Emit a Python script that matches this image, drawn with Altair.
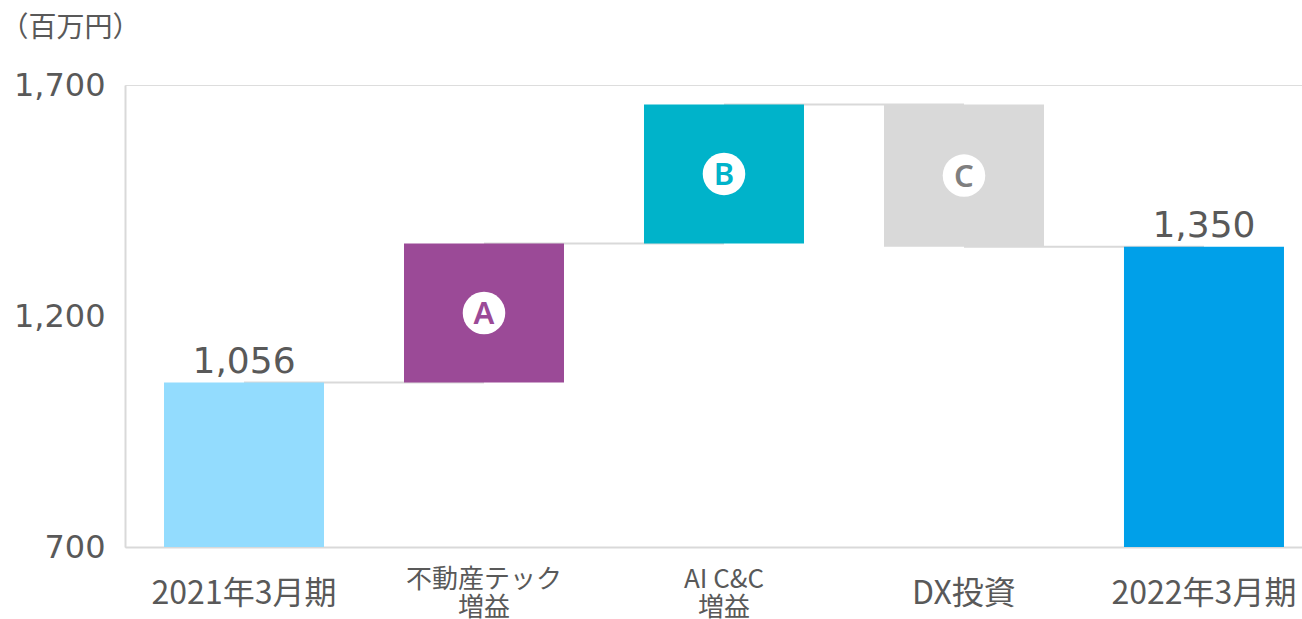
import altair as alt
import pandas as pd

categories = ["2021年3月期", "不動産テック|増益", "AI C&C|増益", "DX投資", "2022年3月期"]
starts = [700, 1056, 1357, 1658, 700]
ends = [1056, 1357, 1658, 1350, 1350]
colors = ["#93DCFE", "#9B4A97", "#00B3CA", "#D9D9D9", "#00A0E9"]
letters = ["", "A", "B", "C", ""]
letter_colors = ["", "#9B4A97", "#00B3CA", "#7F7F7F", ""]
total_labels = ["1,056", "", "", "", "1,350"]
connector_levels = [1056, 1357, 1658, 1350]

df = pd.DataFrame({
    "cat": categories,
    "start": starts,
    "end": ends,
    "color": colors,
    "letter": letters,
    "lcolor": letter_colors,
    "total": total_labels,
})
df["top"] = df[["start", "end"]].max(axis=1)
df["mid"] = (df["start"] + df["end"]) / 2

conn = pd.DataFrame({
    "cat": categories[:-1],
    "cat2": categories[1:],
    "level": connector_levels,
})

x_scale = alt.Scale(domain=categories, paddingInner=1/3, paddingOuter=0.1188, align=0.684)
y_scale = alt.Scale(domain=[700, 1700], nice=False, zero=False)

multi_test = "indexof(datum.value, '|') >= 0"

x_axis = alt.Axis(
    title=None,
    labelAngle=0,
    labelExpr="split(datum.label, '|')",
    labelFont="Noto Sans CJK JP",
    labelFontSize={"condition": {"test": multi_test, "value": 26}, "value": 32},
    labelPadding={"condition": {"test": multi_test, "value": 19}, "value": 31},
    labelColor="#595959",
    labelBaseline="top",
    labelLineHeight=28,
    labelLimit=400,
    ticks=False,
    tickSize=0,
    domainColor="#D9D9D9",
    domainWidth=2,
    grid=False,
)

y_axis = alt.Axis(
    title="（百万円）",
    titleAngle=0,
    titleAlign="left",
    titleBaseline="middle",
    titleX=-125,
    titleY=-57,
    titleFont="Noto Sans CJK JP",
    titleFontSize=28,
    titleFontWeight="normal",
    titleColor="#595959",
    values=[700, 1200, 1700],
    format=",.0f",
    labelFont="DejaVu Sans",
    labelFontSize=32,
    labelColor="#595959",
    labelPadding=20,
    labelLimit=300,
    ticks=False,
    tickSize=0,
    domainColor="#D9D9D9",
    domainWidth=2,
    grid=False,
)

base = alt.Chart(df)

connectors = alt.Chart(conn).mark_rule(color="#D9D9D9", strokeWidth=2).encode(
    x=alt.X("cat:N", scale=x_scale, axis=x_axis, sort=categories),
    x2="cat2:N",
    y=alt.Y("level:Q", scale=y_scale, axis=y_axis),
)

bars = base.mark_bar(stroke=None).encode(
    x=alt.X("cat:N", scale=x_scale, axis=x_axis, sort=categories),
    y=alt.Y("start:Q", scale=y_scale, axis=y_axis),
    y2="end:Q",
    color=alt.Color("color:N", scale=None),
)

circles = base.transform_filter("datum.letter != ''").mark_point(
    filled=True, shape="circle", size=1810, color="white", opacity=1
).encode(
    x=alt.X("cat:N", scale=x_scale, sort=categories),
    y=alt.Y("mid:Q", scale=y_scale),
)

letter_text = base.transform_filter("datum.letter != ''").mark_text(
    font="Noto Sans", fontSize=31, fontWeight=600, baseline="alphabetic", align="center", dy=11
).encode(
    x=alt.X("cat:N", scale=x_scale, sort=categories),
    y=alt.Y("mid:Q", scale=y_scale),
    text="letter:N",
    color=alt.Color("lcolor:N", scale=None),
)

totals = base.transform_filter("datum.total != ''").mark_text(
    font="DejaVu Sans", fontSize=36, color="#595959", baseline="alphabetic", align="center", dy=-10
).encode(
    x=alt.X("cat:N", scale=x_scale, sort=categories),
    y=alt.Y("top:Q", scale=y_scale),
    text="total:N",
)

chart = alt.layer(connectors, bars, circles, letter_text, totals).properties(
    width=1177,
    height=462,
    autosize=alt.AutoSizeParams(type="none"),
    padding={"left": 125, "top": 85, "right": 0, "bottom": 72},
).configure_view(stroke=None).configure(background="white")

chart.save("out.html", embed_options={"renderer": "svg", "actions": False})
